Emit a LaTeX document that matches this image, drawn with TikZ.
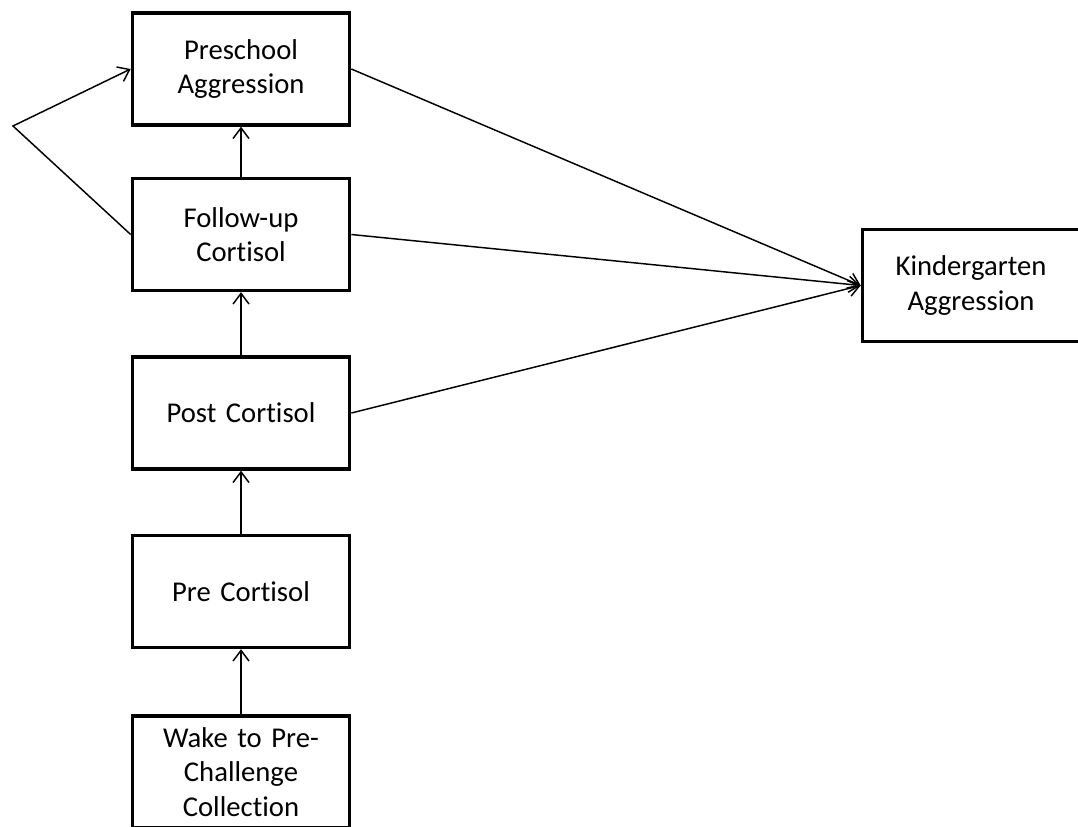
\documentclass[tikz,border=0pt]{standalone}
\usepackage{fontspec}
\setmainfont[Ligatures=NoCommon]{Carlito}
\usepackage{tikz}
\usetikzlibrary{arrows.meta,positioning}

\begin{document}
\begin{tikzpicture}[
  x=0.75pt, y=-0.75pt,
  font=\fontsize{21.5}{26}\selectfont,
  var/.style={draw=black, line width=2.5pt, minimum width=163pt, minimum height=84pt, text width=150pt, align=center, inner sep=2pt},
  link/.style={-{Straight Barb[length=8pt,width=12pt,line width=1.1pt]}, draw=black, line width=1.1pt},
]
\useasboundingbox (0,0) rectangle (1078,827);
\node[var] (psa) at (241,69) {Preschool\\Aggression};
\node[var] (fuc) at (241,234.5) {Follow-up\\Cortisol};
\node[var] (poc) at (241,413) {Post Cortisol};
\node[var] (prc) at (241,591.5) {Pre Cortisol};
\node[var] (wpc) at (241,772) {Wake to Pre-\\Challenge\\Collection};
\node[var] (kga) at (971,285.5) {Kindergarten\\Aggression};
\coordinate (bend) at (13,126);
\foreach \a/\b in {wpc/prc, prc/poc, poc/fuc, fuc/psa} \draw[link] (\a) -- (\b);
\foreach \a in {psa, fuc, poc} \draw[link] (\a.east) -- (kga.west);
\draw[link] (fuc.west) -- (bend) -- (psa.west);
\end{tikzpicture}
\end{document}
